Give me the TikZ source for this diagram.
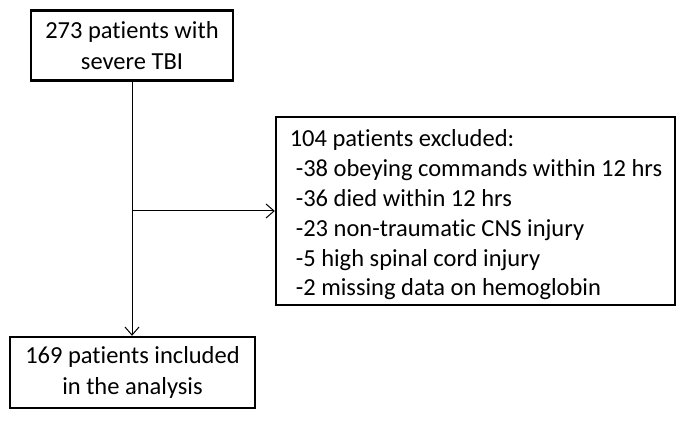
\documentclass[tikz,border=0pt]{standalone}
\usepackage{fontspec}
\setmainfont[Ligatures=NoCommon]{Carlito}
\usetikzlibrary{arrows.meta}
\begin{document}
\begin{tikzpicture}[x=1pt,y=-1pt,
  box/.style={draw=black, line width=2.4pt, rectangle, inner sep=0pt,
    font=\fontsize{24.5}{30.5}\selectfont},
  conn/.style={line width=1pt, -{Straight Barb[length=8pt,width=14pt,line width=1pt]}}]
\useasboundingbox (0,0) rectangle (685,422);
\node[box, minimum width=202pt, minimum height=70pt, align=center] (top) at (132,45.5)
  {273 patients with\\severe TBI};
\node[box, minimum width=245pt, minimum height=71pt, align=center] (bot) at (132.5,372.5)
  {169 patients included\\in the analysis};
\node[box, minimum width=399pt, minimum height=188pt] (exc) at (475.5,211) {};
\node[align=left, inner sep=0pt, font=\fontsize{24.5}{29.8}\selectfont] (exctext) at (476,215)
  {104 patients excluded:\\
   \hspace*{6pt}-38 obeying commands within 12 hrs\\
   \hspace*{6pt}-36 died within 12 hrs\\
   \hspace*{6pt}-23 non-traumatic CNS injury\\
   \hspace*{6pt}-5 high spinal cord injury\\
   \hspace*{6pt}-2 missing data on hemoglobin};
\draw[conn] (top.south) -- (top.south |- bot.north);
\coordinate (j) at (top.south |- exc.west);
\draw[conn] (j) -- (exc.west);
\end{tikzpicture}
\end{document}
